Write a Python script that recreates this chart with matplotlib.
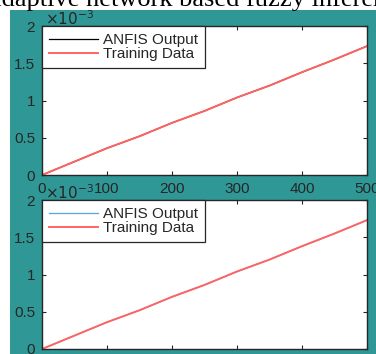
import matplotlib.pyplot as plt
from matplotlib.patches import Rectangle

# samples (x) and outputs in units of 1e-3
x = [0, 50, 100, 150, 200, 250, 300, 350, 400, 450, 500]
train = [0, 0.18, 0.36, 0.52, 0.70, 0.86, 1.04, 1.20, 1.38, 1.55, 1.73]
anfis = [0, 0.18, 0.36, 0.52, 0.70, 0.86, 1.04, 1.20, 1.38, 1.55, 1.73]

xticks = [0, 100, 200, 300, 400, 500]
yticks = [0, 0.5, 1, 1.5, 2]

W, H = 376, 354
teal = '#2f9896'
txt = '#262626'
plt.rcParams['font.family'] = ['Liberation Sans', 'DejaVu Sans']

fig = plt.figure(figsize=(W / 100, H / 100), dpi=100)
fig.patch.set_facecolor('white')
fig.patches.append(Rectangle((10 / W, 0), 1, (H - 10) / H, transform=fig.transFigure,
                             facecolor=teal, edgecolor='none', zorder=-5))

# caption cut off at the top of the crop
fig.text(-10 / W, (H - 6) / H, 'adaptive network based fuzzy inference', fontsize=19,
         family='Liberation Serif', color='black', ha='left', va='baseline', zorder=-4)


def panel(rect, anfis_color, show_xlabels):
    l, t, r, b = rect
    ax = fig.add_axes([l / W, (H - b) / H, (r - l) / W, (b - t) / H])
    ax.plot(x, anfis, color=anfis_color, lw=0.9, label='ANFIS Output')
    ax.plot(x, train, color='#ff6464', lw=1.4, label='Training Data')
    ax.set_xlim(0, 500)
    ax.set_ylim(0, 2)
    ax.set_xticks(xticks)
    ax.set_yticks(yticks)
    ax.set_yticklabels(['0', '0.5', '1', '1.5', '2'])
    ax.tick_params(direction='in', length=3, width=0.8, top=True, right=True,
                   labelsize=11, colors=txt, pad=5)
    if not show_xlabels:
        ax.tick_params(labelbottom=False)
    for s in ax.spines.values():
        s.set_color(txt)
        s.set_linewidth(1.0)
    leg = ax.legend(loc='upper left', fontsize=11, frameon=True, fancybox=False,
                    borderaxespad=0, handlelength=3.2, handletextpad=0.35,
                    borderpad=0.45, labelspacing=0.0, edgecolor=txt, framealpha=1)
    leg.get_frame().set_linewidth(0.9)
    for t_ in leg.get_texts():
        t_.set_color(txt)
    fig.text((l + 3) / W, (H - t + 1) / H, r'$\times10^{-3}$', fontsize=11, color=txt,
             ha='left', va='baseline')
    return ax


panel((42, 26, 367, 175), 'black', True)
panel((42, 200, 367, 349), '#5aa6dc', False)

fig.savefig('out.png', dpi=100, facecolor=fig.get_facecolor())
